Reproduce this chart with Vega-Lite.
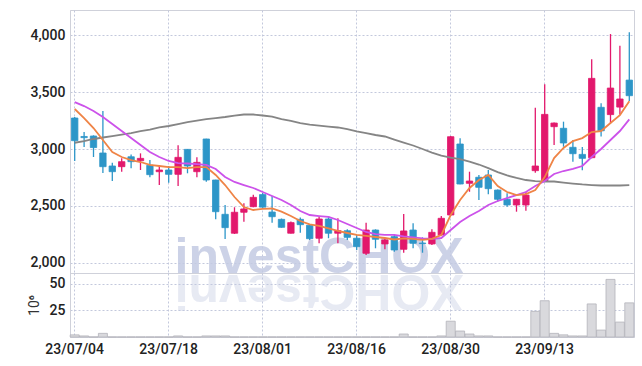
{
  "$schema": "https://vega.github.io/schema/vega-lite/v6.json",
  "background": "white",
  "padding": {"left": 26, "top": 9, "right": 10, "bottom": 0},
  "spacing": 0,
  "bounds": "flush",
  "config": {
    "view": {"stroke": "#cfd1da", "strokeWidth": 1},
    "axis": {
      "labelFont": "Roboto",
      "labelFontSize": 14,
      "labelFontWeight": 500,
      "labelColor": "#222222",
      "domainColor": "#cfd1da",
      "ticks": false,
      "gridColor": "#c3c8dc",
      "gridDash": [2, 2],
      "gridWidth": 1,
      "labelPadding": 5,
      "titleFont": "Roboto",
      "titleFontWeight": "normal",
      "titleColor": "#333333"
    }
  },
  "datasets": {
    "k": [
      {"d": "23/07/04", "o": 3272, "h": 3280, "l": 2895, "c": 3073, "v": 2, "m5": 3351, "m20": 3412, "m60": 3055},
      {"d": "23/07/05", "o": 3110, "h": 3149, "l": 3017, "c": 3100, "v": 1, "m5": 3272, "m20": 3377, "m60": 3070},
      {"d": "23/07/06", "o": 3114, "h": 3120, "l": 2930, "c": 3013, "v": 0.1, "m5": 3184, "m20": 3333, "m60": 3088},
      {"d": "23/07/07", "o": 2965, "h": 3333, "l": 2789, "c": 2845, "v": 3.4, "m5": 3079, "m20": 3281, "m60": 3101},
      {"d": "23/07/10", "o": 2851, "h": 2880, "l": 2719, "c": 2801, "v": 0.1, "m5": 2974, "m20": 3219, "m60": 3114},
      {"d": "23/07/11", "o": 2845, "h": 2918, "l": 2801, "c": 2889, "v": 0.1, "m5": 2930, "m20": 3158, "m60": 3127},
      {"d": "23/07/12", "o": 2932, "h": 2953, "l": 2831, "c": 2889, "v": 0.1, "m5": 2903, "m20": 3096, "m60": 3140},
      {"d": "23/07/13", "o": 2897, "h": 2962, "l": 2816, "c": 2918, "v": 0.1, "m5": 2886, "m20": 3035, "m60": 3158},
      {"d": "23/07/14", "o": 2857, "h": 2903, "l": 2752, "c": 2775, "v": 0.1, "m5": 2860, "m20": 2974, "m60": 3171},
      {"d": "23/07/17", "o": 2801, "h": 2860, "l": 2684, "c": 2816, "v": 0.1, "m5": 2851, "m20": 2930, "m60": 3189},
      {"d": "23/07/18", "o": 2816, "h": 2850, "l": 2704, "c": 2778, "v": 0.1, "m5": 2842, "m20": 2895, "m60": 3202},
      {"d": "23/07/19", "o": 2778, "h": 3032, "l": 2675, "c": 2927, "v": 1, "m5": 2842, "m20": 2877, "m60": 3219},
      {"d": "23/07/20", "o": 2997, "h": 3000, "l": 2787, "c": 2851, "v": 0.1, "m5": 2833, "m20": 2873, "m60": 3237},
      {"d": "23/07/21", "o": 2801, "h": 2927, "l": 2752, "c": 2883, "v": 0.1, "m5": 2842, "m20": 2868, "m60": 3250},
      {"d": "23/07/24", "o": 3088, "h": 3090, "l": 2713, "c": 2728, "v": 1, "m5": 2842, "m20": 2860, "m60": 3263},
      {"d": "23/07/25", "o": 2728, "h": 2730, "l": 2383, "c": 2450, "v": 1, "m5": 2772, "m20": 2825, "m60": 3272},
      {"d": "23/07/26", "o": 2427, "h": 2509, "l": 2210, "c": 2310, "v": 1, "m5": 2684, "m20": 2754, "m60": 3281},
      {"d": "23/07/27", "o": 2261, "h": 2489, "l": 2255, "c": 2445, "v": 0.1, "m5": 2579, "m20": 2711, "m60": 3294},
      {"d": "23/07/28", "o": 2445, "h": 2524, "l": 2362, "c": 2474, "v": 0.1, "m5": 2491, "m20": 2684, "m60": 3303},
      {"d": "23/07/31", "o": 2494, "h": 2599, "l": 2490, "c": 2576, "v": 0.1, "m5": 2465, "m20": 2658, "m60": 3303},
      {"d": "23/08/01", "o": 2600, "h": 2615, "l": 2485, "c": 2490, "v": 0.1, "m5": 2474, "m20": 2623, "m60": 3294},
      {"d": "23/08/02", "o": 2447, "h": 2588, "l": 2354, "c": 2406, "v": 0.1, "m5": 2478, "m20": 2588, "m60": 3285},
      {"d": "23/08/03", "o": 2383, "h": 2390, "l": 2310, "c": 2313, "v": 0.1, "m5": 2450, "m20": 2553, "m60": 3263},
      {"d": "23/08/04", "o": 2261, "h": 2365, "l": 2258, "c": 2354, "v": 0.1, "m5": 2412, "m20": 2509, "m60": 3246},
      {"d": "23/08/07", "o": 2383, "h": 2400, "l": 2266, "c": 2336, "v": 0.1, "m5": 2368, "m20": 2456, "m60": 3228},
      {"d": "23/08/08", "o": 2331, "h": 2335, "l": 2202, "c": 2213, "v": 0.1, "m5": 2338, "m20": 2421, "m60": 3215},
      {"d": "23/08/09", "o": 2217, "h": 2406, "l": 2173, "c": 2386, "v": 0.1, "m5": 2325, "m20": 2412, "m60": 3206},
      {"d": "23/08/10", "o": 2386, "h": 2412, "l": 2217, "c": 2261, "v": 0.1, "m5": 2303, "m20": 2404, "m60": 3197},
      {"d": "23/08/11", "o": 2261, "h": 2392, "l": 2173, "c": 2283, "v": 0.1, "m5": 2281, "m20": 2377, "m60": 3189},
      {"d": "23/08/14", "o": 2283, "h": 2295, "l": 2202, "c": 2225, "v": 0.1, "m5": 2263, "m20": 2342, "m60": 3175},
      {"d": "23/08/16", "o": 2217, "h": 2246, "l": 2114, "c": 2143, "v": 0.1, "m5": 2246, "m20": 2307, "m60": 3154},
      {"d": "23/08/17", "o": 2085, "h": 2354, "l": 2070, "c": 2289, "v": 0.1, "m5": 2237, "m20": 2272, "m60": 3140},
      {"d": "23/08/18", "o": 2289, "h": 2295, "l": 2129, "c": 2208, "v": 0.1, "m5": 2228, "m20": 2254, "m60": 3123},
      {"d": "23/08/21", "o": 2167, "h": 2210, "l": 2120, "c": 2202, "v": 0.1, "m5": 2219, "m20": 2246, "m60": 3110},
      {"d": "23/08/22", "o": 2231, "h": 2254, "l": 2099, "c": 2114, "v": 0.1, "m5": 2206, "m20": 2246, "m60": 3083},
      {"d": "23/08/23", "o": 2120, "h": 2430, "l": 2090, "c": 2281, "v": 2.8, "m5": 2215, "m20": 2233, "m60": 3057},
      {"d": "23/08/24", "o": 2289, "h": 2348, "l": 2129, "c": 2173, "v": 0.1, "m5": 2211, "m20": 2224, "m60": 3031},
      {"d": "23/08/25", "o": 2175, "h": 2225, "l": 2090, "c": 2170, "v": 0.1, "m5": 2202, "m20": 2215, "m60": 3000},
      {"d": "23/08/28", "o": 2167, "h": 2295, "l": 2158, "c": 2269, "v": 0.1, "m5": 2211, "m20": 2211, "m60": 2969},
      {"d": "23/08/29", "o": 2246, "h": 2412, "l": 2240, "c": 2392, "v": 1, "m5": 2246, "m20": 2219, "m60": 2943},
      {"d": "23/08/30", "o": 2421, "h": 3115, "l": 2415, "c": 3108, "v": 14.8, "m5": 2421, "m20": 2289, "m60": 2925},
      {"d": "23/08/31", "o": 3044, "h": 3094, "l": 2690, "c": 2693, "v": 5.6, "m5": 2553, "m20": 2360, "m60": 2912},
      {"d": "23/09/01", "o": 2699, "h": 2801, "l": 2625, "c": 2719, "v": 2.8, "m5": 2658, "m20": 2412, "m60": 2890},
      {"d": "23/09/04", "o": 2752, "h": 2772, "l": 2553, "c": 2664, "v": 1, "m5": 2728, "m20": 2456, "m60": 2864},
      {"d": "23/09/05", "o": 2772, "h": 2816, "l": 2603, "c": 2652, "v": 1, "m5": 2772, "m20": 2509, "m60": 2833},
      {"d": "23/09/06", "o": 2640, "h": 2645, "l": 2538, "c": 2559, "v": 0.1, "m5": 2675, "m20": 2544, "m60": 2798},
      {"d": "23/09/07", "o": 2559, "h": 2611, "l": 2494, "c": 2509, "v": 0.1, "m5": 2623, "m20": 2570, "m60": 2768},
      {"d": "23/09/08", "o": 2509, "h": 2562, "l": 2450, "c": 2559, "v": 0.1, "m5": 2596, "m20": 2596, "m60": 2746},
      {"d": "23/09/11", "o": 2509, "h": 2625, "l": 2459, "c": 2596, "v": 0.1, "m5": 2605, "m20": 2623, "m60": 2728},
      {"d": "23/09/12", "o": 2810, "h": 3362, "l": 2792, "c": 2851, "v": 24, "m5": 2640, "m20": 2675, "m60": 2719},
      {"d": "23/09/13", "o": 2719, "h": 3568, "l": 2715, "c": 3304, "v": 34, "m5": 2754, "m20": 2719, "m60": 2715},
      {"d": "23/09/14", "o": 3196, "h": 3232, "l": 3035, "c": 3228, "v": 3.4, "m5": 2921, "m20": 2781, "m60": 2715},
      {"d": "23/09/15", "o": 3182, "h": 3240, "l": 3020, "c": 3053, "v": 2, "m5": 3009, "m20": 2807, "m60": 2706},
      {"d": "23/09/18", "o": 3015, "h": 3079, "l": 2889, "c": 2959, "v": 1, "m5": 3070, "m20": 2825, "m60": 2697},
      {"d": "23/09/19", "o": 2953, "h": 3018, "l": 2813, "c": 2918, "v": 1, "m5": 3096, "m20": 2851, "m60": 2689},
      {"d": "23/09/20", "o": 2924, "h": 3787, "l": 2918, "c": 3620, "v": 31, "m5": 3149, "m20": 2930, "m60": 2684},
      {"d": "23/09/21", "o": 3366, "h": 3401, "l": 3110, "c": 3160, "v": 6.5, "m5": 3158, "m20": 3000, "m60": 2680},
      {"d": "23/09/22", "o": 3302, "h": 4009, "l": 3225, "c": 3535, "v": 54, "m5": 3228, "m20": 3079, "m60": 2680},
      {"d": "23/09/25", "o": 3368, "h": 3906, "l": 3304, "c": 3439, "v": 14, "m5": 3298, "m20": 3158, "m60": 2680},
      {"d": "23/09/26", "o": 3605, "h": 4024, "l": 3421, "c": 3468, "v": 32, "m5": 3420, "m20": 3260, "m60": 2684}
    ]
  },
  "vconcat": [
    {
      "width": 564,
      "height": 263,
      "data": {"name": "k"},
      "encoding": {
        "x": {
          "field": "d", "type": "ordinal", "sort": null,
          "scale": {"paddingInner": 0, "paddingOuter": 0, "domain": ["23/07/04","23/07/05","23/07/06","23/07/07","23/07/10","23/07/11","23/07/12","23/07/13","23/07/14","23/07/17","23/07/18","23/07/19","23/07/20","23/07/21","23/07/24","23/07/25","23/07/26","23/07/27","23/07/28","23/07/31","23/08/01","23/08/02","23/08/03","23/08/04","23/08/07","23/08/08","23/08/09","23/08/10","23/08/11","23/08/14","23/08/16","23/08/17","23/08/18","23/08/21","23/08/22","23/08/23","23/08/24","23/08/25","23/08/28","23/08/29","23/08/30","23/08/31","23/09/01","23/09/04","23/09/05","23/09/06","23/09/07","23/09/08","23/09/11","23/09/12","23/09/13","23/09/14","23/09/15","23/09/18","23/09/19","23/09/20","23/09/21","23/09/22","23/09/25","23/09/26"]},
          "axis": {"values": ["23/07/04", "23/07/18", "23/08/01", "23/08/16", "23/08/30", "23/09/13"], "labels": false, "domain": false, "ticks": false, "title": null, "bandPosition": 0.5, "grid": true}
        }
      },
      "layer": [
        {
          "data": {"values": [{}]},
          "mark": {"type": "text", "font": "Liberation Sans, Roboto", "fontWeight": "bold", "fontSize": 50, "color": "#c4cbe3", "opacity": 0.85, "align": "center", "baseline": "alphabetic"},
          "encoding": {
            "x": {"datum": "23/08/09", "type": "ordinal"},
            "y": {"datum": 1915, "type": "quantitative"},
            "text": {"value": "investCHOX"}
          }
        },
        {
          "mark": {"type": "rule", "strokeWidth": 1.3},
          "encoding": {
            "y": {"field": "l", "type": "quantitative", "scale": {"domain": [1912, 4220], "nice": false, "zero": false},
              "axis": {"values": [2000, 2500, 3000, 3500, 4000], "format": ",d", "title": null, "grid": true}},
            "y2": {"field": "h"},
            "color": {"condition": {"test": "datum.c >= datum.o", "value": "#e2186c"}, "value": "#2d96c8"}
          }
        },
        {
          "mark": {"type": "bar", "width": {"band": 0.68}, "strokeWidth": 0.8},
          "encoding": {
            "y": {"field": "o", "type": "quantitative"},
            "y2": {"field": "c"},
            "color": {"condition": {"test": "datum.c >= datum.o", "value": "#e2186c"}, "value": "#2d96c8"},
            "stroke": {"condition": {"test": "datum.c >= datum.o", "value": "#e2186c"}, "value": "#2d96c8"}
          }
        },
        {
          "mark": {"type": "line", "color": "#858585", "strokeWidth": 1.8},
          "encoding": {"y": {"field": "m60", "type": "quantitative"}}
        },
        {
          "mark": {"type": "line", "color": "#cc52ea", "strokeWidth": 1.8},
          "encoding": {"y": {"field": "m20", "type": "quantitative"}}
        },
        {
          "mark": {"type": "line", "color": "#ef8446", "strokeWidth": 1.8},
          "encoding": {"y": {"field": "m5", "type": "quantitative"}}
        }
      ]
    },
    {
      "width": 564,
      "height": 64,
      "data": {"name": "k"},
      "encoding": {
        "x": {
          "field": "d", "type": "ordinal", "sort": null,
          "scale": {"paddingInner": 0, "paddingOuter": 0, "domain": ["23/07/04","23/07/05","23/07/06","23/07/07","23/07/10","23/07/11","23/07/12","23/07/13","23/07/14","23/07/17","23/07/18","23/07/19","23/07/20","23/07/21","23/07/24","23/07/25","23/07/26","23/07/27","23/07/28","23/07/31","23/08/01","23/08/02","23/08/03","23/08/04","23/08/07","23/08/08","23/08/09","23/08/10","23/08/11","23/08/14","23/08/16","23/08/17","23/08/18","23/08/21","23/08/22","23/08/23","23/08/24","23/08/25","23/08/28","23/08/29","23/08/30","23/08/31","23/09/01","23/09/04","23/09/05","23/09/06","23/09/07","23/09/08","23/09/11","23/09/12","23/09/13","23/09/14","23/09/15","23/09/18","23/09/19","23/09/20","23/09/21","23/09/22","23/09/25","23/09/26"]},
          "axis": {"values": ["23/07/04", "23/07/18", "23/08/01", "23/08/16", "23/08/30", "23/09/13"], "labelAngle": 0, "title": null, "bandPosition": 0.5, "grid": true, "labelPadding": 5}
        }
      },
      "layer": [
        {
          "data": {"values": [{}]},
          "mark": {"type": "text", "font": "Liberation Sans, Roboto", "fontWeight": "bold", "fontSize": 50, "color": "#c4cbe3", "opacity": 0.4, "align": "center", "baseline": "alphabetic", "angle": 180},
          "encoding": {
            "x": {"datum": "23/08/09", "type": "ordinal"},
            "y": {"datum": 58, "type": "quantitative"},
            "text": {"value": "XOHCtsevni"}
          }
        },
        {
          "mark": {"type": "bar", "width": {"band": 0.96}, "color": "#d9d9dd", "stroke": "#b3b3ba", "strokeWidth": 0.8},
          "encoding": {
            "y": {
              "field": "v", "type": "quantitative",
              "scale": {"domain": [0, 60], "nice": false},
              "axis": {"values": [25, 50], "title": "10⁶", "titleFontSize": 14, "titlePadding": 8, "grid": true}
            }
          }
        }
      ]
    }
  ]
}
